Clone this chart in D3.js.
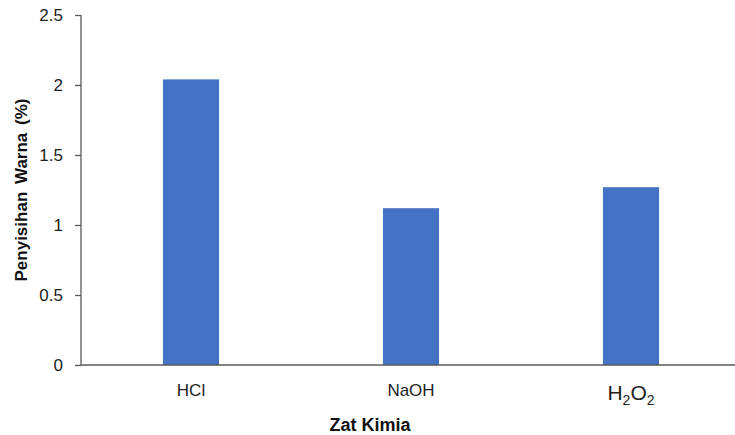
<!DOCTYPE html>
<html><head><meta charset="utf-8">
<script src="https://cdn.jsdelivr.net/npm/d3@7"></script>
<style>body{margin:0;background:#fff;} text{font-family:"Liberation Sans",Arial,sans-serif;}</style>
</head><body>
<svg id="c" width="735" height="435"></svg>
<script>
const categories = ["HCl", "NaOH", "H2O2"];
const values = [2.04, 1.12, 1.27];
const yTicks = [0, 0.5, 1, 1.5, 2, 2.5];
const yTickLabels = ["0", "0.5", "1", "1.5", "2", "2.5"];

const svg = d3.select("#c");
const x = d3.scaleBand().domain(categories).range([81, 741]).paddingInner(0.745).paddingOuter(0.3725);
const y = d3.scaleLinear().domain([0, 2.5]).range([365, 15]);

svg.selectAll("rect.bar").data(values).join("rect").attr("class","bar")
  .attr("x",(d,i)=>x(categories[i])).attr("width",x.bandwidth())
  .attr("y",d=>y(d)).attr("height",d=>y(0)-y(d)).attr("fill","#4472C4");

const yAxis = svg.append("g").attr("transform","translate(81,0)")
  .call(d3.axisLeft(y).tickValues(yTicks).tickFormat((d,i)=>yTickLabels[i]).tickSize(6).tickPadding(12));
yAxis.select(".domain").attr("stroke","#595959").attr("stroke-width",1.3).attr("d","M0,15V365");
yAxis.selectAll(".tick line").attr("stroke","#595959").attr("stroke-width",1.3);
yAxis.selectAll(".tick text").attr("font-size",17).attr("fill","#222");

svg.append("line").attr("x1",81).attr("x2",735).attr("y1",y(0)).attr("y2",y(0))
  .attr("stroke","#595959").attr("stroke-width",1.5);

const xl = svg.append("g");
categories.forEach((c,i)=>{
  const cx = x(c)+x.bandwidth()/2;
  if(c==="H2O2"){
    const t = xl.append("text").attr("x",cx).attr("y",400).attr("text-anchor","middle").attr("font-size",21).attr("fill","#222");
    t.append("tspan").text("H");
    t.append("tspan").text("2").attr("font-size",14).attr("dy",5);
    t.append("tspan").text("O").attr("dy",-5);
    t.append("tspan").text("2").attr("font-size",14).attr("dy",5);
  } else {
    xl.append("text").attr("x",cx).attr("y",396).attr("text-anchor","middle").attr("font-size",17).attr("fill","#222").text(c);
  }
});

svg.append("text").attr("x",370).attr("y",431).attr("text-anchor","middle").attr("font-size",18).attr("font-weight","bold").attr("fill","#111").text("Zat Kimia");
svg.append("text").attr("transform","translate(27,190) rotate(-90)").attr("text-anchor","middle").attr("font-size",17).attr("font-weight","bold").attr("word-spacing",3).attr("fill","#111").text("Penyisihan Warna (%)");
</script>
</body></html>
